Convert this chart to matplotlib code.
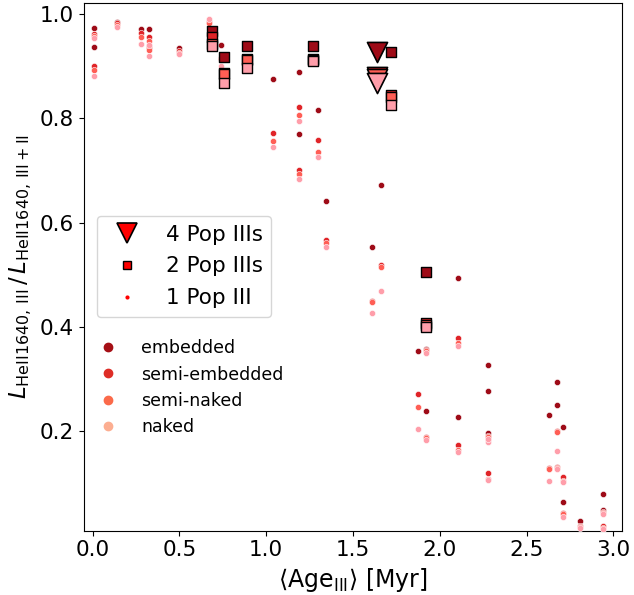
import matplotlib.pyplot as plt
from matplotlib.lines import Line2D

# columns: embedded, semi-embedded, semi-naked, naked
ages_1pop = [0.005, 0.005, 0.138, 0.278, 0.322, 0.322, 0.50, 0.67, 0.737, 1.04,
             1.19, 1.19, 1.30, 1.345, 1.608, 1.66, 1.875, 1.92, 1.92, 2.105,
             2.105, 2.276, 2.276, 2.276, 2.631, 2.675, 2.675, 2.711, 2.711, 2.807,
             2.94, 2.94]
emb_1pop = [0.973, 0.936, 0.984, 0.971, 0.971, 0.938, 0.935, 0.984, 0.940, 0.875,
            0.888, 0.770, 0.816, 0.642, 0.553, 0.671, 0.354, 0.357, 0.238, 0.494,
            0.228, 0.328, 0.278, 0.197, 0.232, 0.295, 0.250, 0.209, 0.065, 0.029,
            0.080, 0.049]
semiemb_1pop = [0.962, 0.900, 0.982, 0.963, 0.956, 0.934, 0.928, 0.984, 0.915, 0.772,
                0.822, 0.701, 0.759, 0.567, 0.450, 0.518, 0.272, 0.355, 0.189, 0.379,
                0.174, 0.188, 0.121, 0.192, 0.130, 0.200, 0.132, 0.113, 0.043, 0.018,
                0.045, 0.018]
seminaked_1pop = [0.958, 0.892, 0.978, 0.955, 0.947, 0.930, 0.925, 0.983, 0.913, 0.756,
                  0.806, 0.693, 0.736, 0.560, 0.447, 0.515, 0.246, 0.353, 0.187, 0.370,
                  0.165, 0.184, 0.108, 0.189, 0.128, 0.198, 0.130, 0.104, 0.041, 0.016,
                  0.043, 0.015]
naked_1pop = [0.953, 0.881, 0.975, 0.943, 0.941, 0.920, 0.923, 0.990, 0.899, 0.745,
              0.794, 0.683, 0.726, 0.553, 0.426, 0.468, 0.204, 0.351, 0.184, 0.364,
              0.160, 0.179, 0.106, 0.185, 0.104, 0.162, 0.127, 0.102, 0.035, 0.014,
              0.041, 0.013]

ages_2pop = [0.687, 0.754, 0.888, 1.268, 1.72, 1.92]
emb_2pop = [0.967, 0.918, 0.939, 0.938, 0.927, 0.506]
semiemb_2pop = [0.955, 0.887, 0.914, 0.914, 0.845, 0.408]
seminaked_2pop = [0.942, 0.885, 0.911, 0.912, 0.841, 0.403]
naked_2pop = [0.939, 0.868, 0.897, 0.910, 0.826, 0.400]

ages_4pop = [1.638]
emb_4pop = [0.927]
semiemb_4pop = [0.879]
seminaked_4pop = [0.875]
naked_4pop = [0.867]

env_labels = ["embedded", "semi-embedded", "semi-naked", "naked"]
PLOT_COLORS = ["#9e0b17", "#e02428", "#ff5e55", "#ff9eaa"]
LEGEND_COLORS = ["#a50f15", "#de2d26", "#fb6a4a", "#fcae91"]

fig = plt.figure(figsize=(6.34, 5.95), dpi=100)
ax = fig.add_axes([0.1325, 0.1084, 0.8485, 0.886])

one = [emb_1pop, semiemb_1pop, seminaked_1pop, naked_1pop]
two = [emb_2pop, semiemb_2pop, seminaked_2pop, naked_2pop]
four = [emb_4pop, semiemb_4pop, seminaked_4pop, naked_4pop]

for vals, c in zip(one, PLOT_COLORS):
    ax.scatter(ages_1pop, vals, s=20, color=c, edgecolors="white", linewidths=0.4, zorder=3)
for vals, c in zip(two, PLOT_COLORS):
    ax.scatter(ages_2pop, vals, s=52, marker="s", color=c, edgecolors="black",
               linewidths=1.0, zorder=4)
for vals, c in zip(four, PLOT_COLORS):
    ax.scatter(ages_4pop, vals, s=210, marker="v", color=c, edgecolors="black",
               linewidths=1.2, zorder=5)

ax.set_xlim(-0.05, 3.05)
ax.set_ylim(0.01, 1.02)
ax.set_xticks([0.0, 0.5, 1.0, 1.5, 2.0, 2.5, 3.0])
ax.set_yticks([0.2, 0.4, 0.6, 0.8, 1.0])
ax.tick_params(labelsize=15.5)
ax.set_xlabel(r"$\langle \mathrm{Age}_{\mathrm{III}} \rangle$ [Myr]", fontsize=17)
ax.set_ylabel(r"$L_{\mathrm{HeII1640,\,III}}\,/\,L_{\mathrm{HeII1640,\,III+II}}$", fontsize=16.5)

pop_handles = [
    Line2D([], [], ls="none", marker="v", markersize=15, markerfacecolor="red",
           markeredgecolor="black", markeredgewidth=1.2),
    Line2D([], [], ls="none", marker="s", markersize=6, markerfacecolor="red",
           markeredgecolor="black", markeredgewidth=1.0),
    Line2D([], [], ls="none", marker="o", markersize=3, markerfacecolor="red",
           markeredgecolor="none"),
]
leg1 = ax.legend(pop_handles, ["4 Pop IIIs", "2 Pop IIIs", "1 Pop III"], fontsize=15.5,
                 loc="upper left", bbox_to_anchor=(0.024, 0.5966), borderaxespad=0,
                 handletextpad=0.8, labelspacing=0.55)
ax.add_artist(leg1)

env_handles = [Line2D([], [], ls="none", marker="o", markersize=6, color=c)
               for c in LEGEND_COLORS]
ax.legend(env_handles, env_labels, fontsize=12.5, frameon=False, loc="upper left",
          bbox_to_anchor=(0.0154, 0.376), borderaxespad=0, handlelength=1.0,
          handletextpad=1.4, labelspacing=0.48)

fig.savefig("out.png", dpi=100)
